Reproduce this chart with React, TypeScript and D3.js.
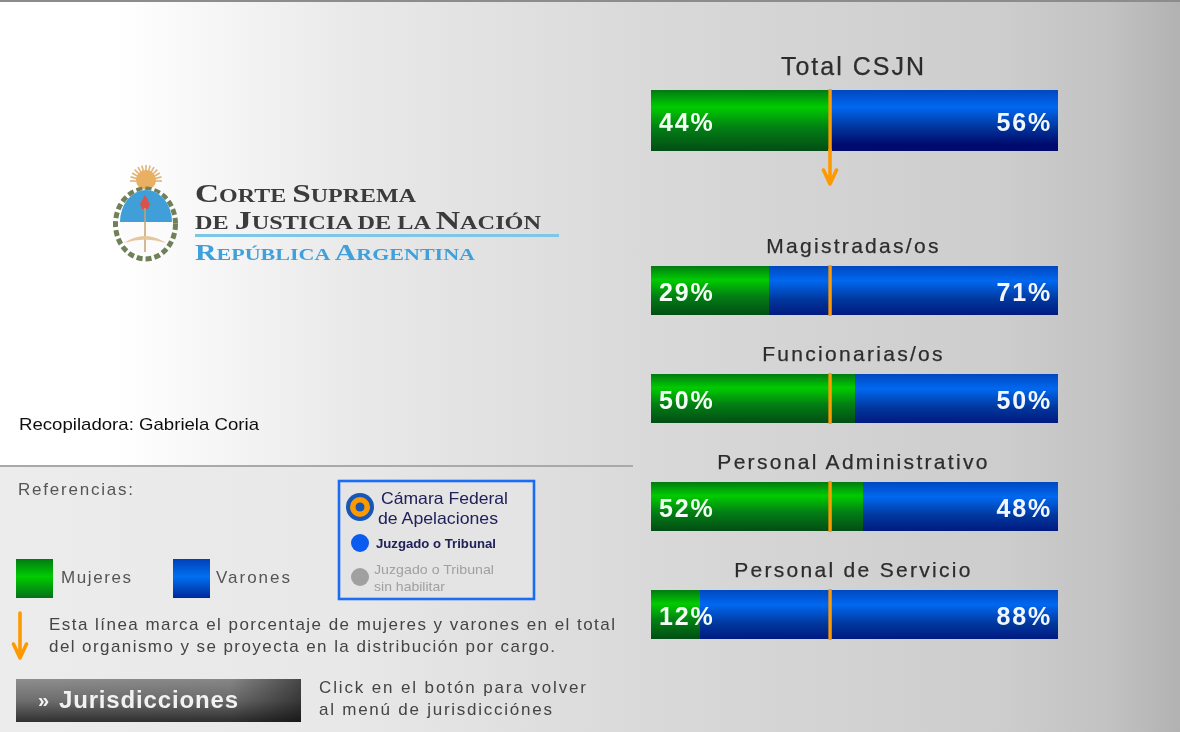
import React from "react";
import * as d3 from "d3";

const categories = ["Total CSJN", "Magistradas/os", "Funcionarias/os", "Personal Administrativo", "Personal de Servicio"];
const mujeres = [44, 29, 50, 52, 12];
const varones = [56, 71, 50, 48, 88];

const SANS = "'Liberation Sans', Arial, sans-serif";
const DEJA = "'DejaVu Sans', Verdana, sans-serif";
const SERIF = "'Liberation Serif', serif";
const W = 1180;
const H = 732;

const x = d3.scaleLinear().domain([0, 100]).range([651, 1058]);
const ORANGE = "#ff9900";

function Arrow({ px, y1, y2 }: { px: number; y1: number; y2: number }) {
  const path = d3.path();
  path.moveTo(px, y1);
  path.lineTo(px, y2);
  path.moveTo(px - 6.5, y2 - 14);
  path.lineTo(px, y2);
  path.lineTo(px + 6.5, y2 - 14);
  return <path d={path.toString()} fill="none" stroke={ORANGE} strokeWidth={3.6} strokeLinecap="round" strokeLinejoin="round" />;
}

function Logo() {
  return (
    <g>
      <g filter="url(#soft2)">
        <g stroke="#d9a25a" strokeWidth={1.6} opacity={0.8}>
          {d3.range(-90, 91, 15).map((a) => {
            const r = (a * Math.PI) / 180;
            return <line key={a} x1={146} y1={181} x2={146 + 16 * Math.sin(r)} y2={181 - 16 * Math.cos(r)} />;
          })}
        </g>
        <circle cx={146} cy={180} r={10} fill="#e8b060" />
        <ellipse cx={145.5} cy={224} rx={30} ry={35} fill="none" stroke="#6f8058" strokeWidth={5} strokeDasharray="6 3" />
        <ellipse cx={146} cy={222} rx={26} ry={32} fill="#fbfbfb" />
        <path d="M120 222 A26 32 0 0 1 172 222 Z" fill="#3f9fd8" />
        <path d="M145 195 L150 204 L148 209 H142 L140 204 Z" fill="#d8524a" />
        <line x1={145} y1={208} x2={145} y2={252} stroke="#c9a070" strokeWidth={1.5} />
        <path d="M124 243 Q145 229 166 243 Q145 236 124 243 Z" fill="#e5c89a" />
      </g>
      <g filter="url(#soft)" fontFamily={SERIF} fontWeight={700}>
        <text x={195} y={202} fill="#3b3b3b" fontSize={18} textLength={221} lengthAdjust="spacingAndGlyphs">
          <tspan fontSize={25}>C</tspan>ORTE <tspan fontSize={25}>S</tspan>UPREMA
        </text>
        <text x={195} y={229} fill="#3b3b3b" fontSize={18} textLength={346} lengthAdjust="spacingAndGlyphs">
          DE <tspan fontSize={25}>J</tspan>USTICIA DE LA <tspan fontSize={25}>N</tspan>ACIÓN
        </text>
        <text x={195} y={260} fill="#3fa0dc" fontSize={17} textLength={280} lengthAdjust="spacingAndGlyphs">
          <tspan fontSize={23}>R</tspan>EPÚBLICA <tspan fontSize={23}>A</tspan>RGENTINA
        </text>
      </g>
      <rect x={195} y={234} width={364} height={3} fill="#7cc7e8" />
    </g>
  );
}

export default function App() {
  const refX = x(mujeres[0]);
  const top = (i: number) => (i === 0 ? 90 : 158 + 108 * i);
  const barH = (i: number) => (i === 0 ? 61 : 49);
  return (
    <svg
      width={W}
      height={H}
      viewBox={`0 0 ${W} ${H}`}
      style={{ position: "fixed", left: 0, top: 0, display: "block" }}
      fontFamily={SANS}
    >
      <defs>
        <linearGradient id="bg" x1="0" x2="1" y1="0" y2="0">
          <stop offset="0" stopColor="#ffffff" />
          <stop offset="0.1" stopColor="#ffffff" />
          <stop offset="0.3" stopColor="#e9e9e9" />
          <stop offset="0.55" stopColor="#d9d9d9" />
          <stop offset="0.85" stopColor="#cdcdcd" />
          <stop offset="0.94" stopColor="#c2c2c2" />
          <stop offset="1" stopColor="#b2b2b2" />
        </linearGradient>
        <linearGradient id="panel" x1="0" x2="1" y1="0" y2="0">
          <stop offset="0" stopColor="#ececec" />
          <stop offset="0.55" stopColor="#e8e8e8" />
          <stop offset="1" stopColor="#dadada" />
        </linearGradient>
        <linearGradient id="green" x1="0" x2="0" y1="0" y2="1">
          <stop offset="0" stopColor="#027a12" />
          <stop offset="0.28" stopColor="#00cc00" />
          <stop offset="0.62" stopColor="#027f14" />
          <stop offset="1" stopColor="#034d14" />
        </linearGradient>
        <linearGradient id="blue" x1="0" x2="0" y1="0" y2="1">
          <stop offset="0" stopColor="#0048c0" />
          <stop offset="0.28" stopColor="#0068f0" />
          <stop offset="0.62" stopColor="#00349c" />
          <stop offset="0.9" stopColor="#000a6c" />
          <stop offset="1" stopColor="#000a6c" />
        </linearGradient>
        <linearGradient id="blue2" x1="0" x2="0" y1="0" y2="1">
          <stop offset="0" stopColor="#0048c0" />
          <stop offset="0.3" stopColor="#0068f0" />
          <stop offset="0.68" stopColor="#00389e" />
          <stop offset="1" stopColor="#001a80" />
        </linearGradient>
        <linearGradient id="legGreen" x1="0" x2="0" y1="0" y2="1">
          <stop offset="0" stopColor="#027a12" />
          <stop offset="0.45" stopColor="#00cc00" />
          <stop offset="1" stopColor="#04701a" />
        </linearGradient>
        <linearGradient id="legBlue" x1="0" x2="0" y1="0" y2="1">
          <stop offset="0" stopColor="#0040b8" />
          <stop offset="0.45" stopColor="#0070f0" />
          <stop offset="1" stopColor="#00289a" />
        </linearGradient>
        <linearGradient id="btn" x1="0" x2="0" y1="0" y2="1">
          <stop offset="0" stopColor="#8e8e8e" />
          <stop offset="0.5" stopColor="#6e6e6e" />
          <stop offset="1" stopColor="#303030" />
        </linearGradient>
        <linearGradient id="btnShade" x1="0" x2="1" y1="0" y2="0">
          <stop offset="0" stopColor="#000" stopOpacity={0} />
          <stop offset="0.75" stopColor="#000" stopOpacity={0.05} />
          <stop offset="1" stopColor="#000" stopOpacity={0.5} />
        </linearGradient>
        <filter id="soft" x="-5%" y="-20%" width="110%" height="140%">
          <feGaussianBlur stdDeviation="0.4" />
        </filter>
        <filter id="soft2" x="-10%" y="-10%" width="120%" height="120%">
          <feGaussianBlur stdDeviation="0.7" />
        </filter>
      </defs>

      <rect width={W} height={H} fill="url(#bg)" />
      <rect width={W} height={2} fill="#8c8c8c" />
      <rect x={0} y={466} width={633} height={266} fill="url(#panel)" />
      <rect x={0} y={465} width={633} height={2} fill="#a9a9a9" />

      <Logo />

      <rect x={339} y={481} width={195} height={118} fill="#e4e4e4" stroke="#1a6cf5" strokeWidth={2.6} />
      <circle cx={360} cy={507} r={14} fill="#1557b8" />
      <circle cx={360} cy={507} r={10} fill={ORANGE} />
      <circle cx={360} cy={507} r={4.5} fill="#1557b8" />
      <circle cx={360} cy={543} r={9} fill="#0a5cf0" />
      <circle cx={360} cy={577} r={9} fill="#a0a0a0" />

      <g filter="url(#soft)">
        <text x={19} y={430} fontSize={17} fill="#111" textLength={240} lengthAdjust="spacingAndGlyphs">Recopiladora: Gabriela Coria</text>

        {categories.map((c, i) => (
          <text
            key={c}
            x={853.5}
            y={i === 0 ? 75 : 145 + 108 * i}
            textAnchor="middle"
            fontSize={i === 0 ? 25 : 21}
            fill="#2d2d2d"
            stroke="#2d2d2d"
            strokeWidth={0.25}
            letterSpacing={i === 0 ? 2 : 2.3}
          >
            {c}
          </text>
        ))}

        <g fontFamily={SANS} fontSize={17}>
          <text x={18} y={495} fill="#555" textLength={115} >Referencias:</text>
          <text x={61} y={583} fill="#555" textLength={70}>Mujeres</text>
          <text x={216} y={583} fill="#555" textLength={74}>Varones</text>
          <text x={49} y={630} fill="#444" textLength={566}>Esta línea marca el porcentaje de mujeres y varones en el total</text>
          <text x={49} y={652} fill="#444" textLength={506}>del organismo y se proyecta en la distribución por cargo.</text>
          <text x={319} y={693} fill="#444" textLength={267}>Click en el botón para volver</text>
          <text x={319} y={715} fill="#444" textLength={233}>al menú de jurisdicciónes</text>
        </g>

        <text x={381} y={504} fontSize={16.5} fill="#20205a" textLength={127} lengthAdjust="spacingAndGlyphs">Cámara Federal</text>
        <text x={378} y={524} fontSize={16.5} fill="#20205a" textLength={120} lengthAdjust="spacingAndGlyphs">de Apelaciones</text>
        <text x={376} y={548} fontSize={12.5} fontWeight={700} fill="#20205a" textLength={120} lengthAdjust="spacingAndGlyphs">Juzgado o Tribunal</text>
        <text x={374} y={574} fontSize={13.5} fill="#a0a0a0" textLength={120} lengthAdjust="spacingAndGlyphs">Juzgado o Tribunal</text>
        <text x={374} y={591} fontSize={13.5} fill="#a0a0a0" textLength={71} lengthAdjust="spacingAndGlyphs">sin habilitar</text>
      </g>

      {categories.map((c, i) => {
        const t = top(i);
        const h = barH(i);
        const mid = Math.round(x(mujeres[i]));
        return (
          <g key={c}>
            <rect x={x(0)} y={t} width={mid - x(0)} height={h} fill="url(#green)" />
            <rect x={mid} y={t} width={x(100) - mid} height={h} fill={i === 0 ? "url(#blue)" : "url(#blue2)"} />
            <rect x={refX - 1.7} y={t - 1} width={3.4} height={h + 2} fill={ORANGE} />
            <g filter="url(#soft)" fontSize={25} fontWeight={700} letterSpacing={1.8}>
              <text x={659} y={t + h / 2 + 10} fill="#f4fff4">{mujeres[i]}%</text>
              <text x={1052} y={t + h / 2 + 10} textAnchor="end" fill="#f2f6ff">{varones[i]}%</text>
            </g>
          </g>
        );
      })}

      <Arrow px={830} y1={150} y2={184} />

      <rect x={16} y={559} width={37} height={39} fill="url(#legGreen)" />
      <rect x={173} y={559} width={37} height={39} fill="url(#legBlue)" />
      <Arrow px={20} y1={613} y2={658} />

      <rect x={16} y={679} width={285} height={43} fill="url(#btn)" />
      <rect x={16} y={679} width={285} height={43} fill="url(#btnShade)" />
      <g filter="url(#soft)" fill="#f2f2f2" fontWeight={700}>
        <text x={38} y={707} fontSize={20}>»</text>
        <text x={59} y={708} fontSize={24} textLength={179}>Jurisdicciones</text>
      </g>
    </svg>
  );
}
